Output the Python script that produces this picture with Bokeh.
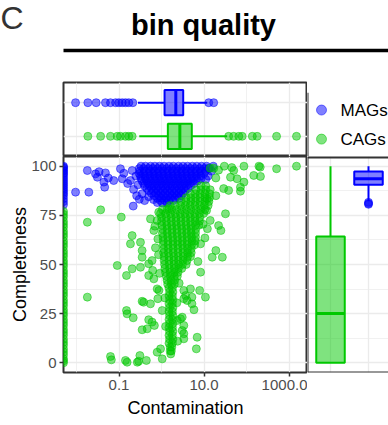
from bokeh.plotting import figure
from bokeh.layouts import column, row
from bokeh.models import Range1d, FixedTicker, Span, Grid, CustomJSTickFormatter
from bokeh.core.properties import value
from bokeh.embed import file_html
from bokeh.resources import INLINE

# ---------------- data ----------------
GROUPS = ["CAGs", "MAGs"]               # bottom/left -> top/right
LEGEND_ORDER = ["MAGs", "CAGs"]
COLORS = {"MAGs": "#0000FF", "CAGs": "#00C800"}

# bins with contamination 0 (drawn at the left edge, like -Inf on a log axis)
MAG_EDGE_COMP = [100, 99.5, 99, 98, 97.5, 96.5, 96, 95, 94, 93, 92, 91, 90, 89, 88, 87, 86, 85, 83.5, 82, 80.5]
CAG_EDGE_COMP = [77, 75.5, 74, 72, 70.5, 69, 67, 65.5, 64, 62, 60.5, 59, 57, 55.5, 54, 52, 50.5, 49, 47, 45.5,
                 44, 42, 40.5, 39, 37, 35.5, 34, 32, 30.5, 29, 27, 25.5, 24, 22, 20.5, 19, 17, 15.5, 14, 12,
                 10.5, 9, 7, 5.5, 4, 2, 1, 0]

# MAGs: (contamination, completeness)
MAG_SCATTER = [(0.0095, 86.8), (0.018, 97.8), (0.0195, 86.8), (0.028, 96.1), (0.031, 94.4), (0.034, 97.2),
               (0.044, 91.9), (0.046, 89.3), (0.048, 96.6), (0.056, 94.0), (0.075, 92.7), (0.108, 98.7),
               (0.119, 93.6), (0.13, 96.4), (0.16, 91.2), (0.186, 92.7), (0.204, 97.8), (0.216, 79.7),
               (0.22, 88.2), (0.25, 95.0), (0.26, 85.0), (0.28, 90.5), (0.3, 83.2), (0.35, 86.0),
               (0.4, 82.5), (0.5, 84.5), (0.65, 83.0), (0.8, 81.5), (13.0, 99.0), (15.0, 97.5),
               (16.5, 100.0), (12.5, 95.0), (11.0, 93.3)]
MAG_CORE = [
    (100, [0.33, 0.42, 0.55, 0.7, 0.9, 1.15, 1.5, 1.9, 2.5, 3.2, 4.1, 5.3, 6.8, 8.8, 11.5]),
    (98.8, [0.3, 0.38, 0.5, 0.63, 0.82, 1.05, 1.35, 1.75, 2.25, 2.9, 3.7, 4.8, 6.2, 8.0, 10.3, 13.0]),
    (97.5, [0.31, 0.4, 0.52, 0.67, 0.86, 1.1, 1.42, 1.83, 2.35, 3.0, 3.9, 5.0, 6.5, 8.4, 10.8]),
    (96.2, [0.3, 0.38, 0.49, 0.63, 0.81, 1.04, 1.34, 1.72, 2.2, 2.85, 3.65, 4.7, 6.05, 7.8, 10.0]),
    (95, [0.32, 0.41, 0.53, 0.68, 0.87, 1.12, 1.44, 1.85, 2.4, 3.05, 3.95, 5.1, 6.5, 8.4]),
    (93.7, [0.33, 0.42, 0.54, 0.7, 0.9, 1.16, 1.5, 1.92, 2.45, 3.15, 4.05, 5.2, 6.7, 8.5]),
    (92.5, [0.35, 0.45, 0.58, 0.75, 0.96, 1.23, 1.58, 2.03, 2.6, 3.35, 4.3, 5.5, 7.1]),
    (91.2, [0.38, 0.49, 0.63, 0.8, 1.03, 1.32, 1.7, 2.2, 2.8, 3.6, 4.6, 5.9]),
    (90, [0.4, 0.52, 0.67, 0.86, 1.1, 1.42, 1.82, 2.35, 3.0, 3.85, 4.9]),
    (88.7, [0.45, 0.58, 0.75, 0.96, 1.23, 1.58, 2.03, 2.6, 3.35, 4.2]),
    (87.5, [0.5, 0.64, 0.82, 1.05, 1.35, 1.73, 2.2, 2.85, 3.6]),
    (86.2, [0.58, 0.74, 0.95, 1.22, 1.56, 2.0, 2.55, 3.2]),
    (85, [0.68, 0.87, 1.1, 1.42, 1.8, 2.3, 2.9]),
    (83.7, [0.8, 1.0, 1.3, 1.65, 2.1, 2.6]),
    (82.5, [0.95, 1.2, 1.5, 1.9]),
    (81.3, [1.05, 1.35]),
]

# CAGs: (contamination, completeness)
CAG_SCATTER = [(17, 99), (30, 100), (45, 99.3), (87, 100), (196, 100), (210, 99.5), (510, 98.7), (1500, 100),
               (50, 97.8), (42, 94.4), (60, 93.6), (148, 95.3), (213, 94.8), (87, 91.9), (72, 89.3),
               (72, 87.3), (38, 87.7), (29, 88.6), (19, 94), (22, 98), (14, 99), (19, 85), (11.8, 83.6),
               (32, 75.8), (22, 69.8), (25, 67.3), (14, 72.4), (12, 68.2), (19, 57.1), (15.6, 53.7),
               (27, 53.7), (8.3, 60.5), (8.3, 46.1), (10.5, 63.5), (9.5, 70.5), (11.5, 77.5), (7.2, 51.5),
               (0.018, 71.5), (0.037, 77.8), (0.113, 74.1), (0.204, 64.7), (0.186, 60.5), (0.32, 61.3),
               (0.35, 57.1), (0.091, 49.5), (0.15, 44.4), (0.204, 47.8), (0.32, 48.6), (0.35, 53.7),
               (0.5, 50.4), (0.6, 52), (0.5, 44.4), (0.66, 42.7), (0.79, 37.6), (0.66, 67.3), (0.79, 72.4),
               (0.55, 73.2), (0.86, 76.6), (1.48, 78.3), (0.72, 58.5), (0.82, 63.0), (0.7, 69.5),
               (0.85, 55.0), (0.62, 47.0), (0.9, 45.5),
               (0.018, 33.4), (0.15, 26.6), (0.155, 24.9), (0.216, 22.9), (0.35, 31.3), (0.38, 30.8),
               (0.55, 30), (0.5, 21.9), (0.6, 20.7), (0.68, 19), (0.35, 16.8), (0.46, 17.3), (0.82, 32.6),
               (0.87, 36.8), (1.04, 2), (0.79, 5.4), (0.31, 3.7), (0.44, 1.2), (0.063, 3.2), (0.066, 1.5),
               (0.142, 1.2), (0.155, 0.3), (0.27, 0.3), (0.29, 0.8), (1.04, 26.6), (0.95, 7.1),
               (3.07, 23.2), (2.8, 22.4), (3.35, 36.8), (3.7, 34.2), (3.35, 32.6), (4.0, 31.7), (5.2, 33.4),
               (5.2, 30), (5.8, 27), (4.8, 37.6), (7.9, 36.8), (10.8, 33.4), (6.6, 7.1), (6.9, 13),
               (3.35, 19), (3.35, 14.8), (3.35, 12.2), (3.07, 16.4), (2.35, 21.5), (2.3, 30.5),
               (2.4, 11.0), (1.25, 18.5), (1.2, 33.0), (2.6, 40.5)]
CAG_CORE = [
    (90, [8.5, 11.0]),
    (88, [6.5, 8.5, 11.0, 14.0]),
    (86, [4.8, 6.2, 8.0, 10.5, 13.5]),
    (84, [3.8, 4.9, 6.3, 8.1, 10.5, 13.5]),
    (82, [2.9, 3.8, 4.9, 6.3, 8.1, 10.5, 13.0]),
    (80, [1.6, 2.1, 2.8, 3.6, 4.7, 6.1, 7.9, 10.2, 12.5]),
    (78, [1.05, 1.35, 1.75, 2.3, 3.0, 3.9, 5.0, 6.5, 8.4, 10.5]),
    (76, [0.95, 1.25, 1.62, 2.1, 2.75, 3.55, 4.6, 6.0, 7.8, 9.8]),
    (74, [1.0, 1.3, 1.7, 2.2, 2.85, 3.7, 4.8, 6.2, 8.0]),
    (72, [1.0, 1.3, 1.7, 2.2, 2.85, 3.7, 4.8, 6.2, 7.8]),
    (70, [1.02, 1.33, 1.73, 2.25, 2.9, 3.8, 4.9, 6.3, 7.6]),
    (68, [1.05, 1.36, 1.77, 2.3, 3.0, 3.9, 5.0, 6.4]),
    (66, [1.05, 1.37, 1.78, 2.3, 3.0, 3.9, 5.0, 6.3]),
    (64, [1.08, 1.4, 1.82, 2.37, 3.08, 4.0, 5.1, 6.3]),
    (62, [1.1, 1.43, 1.86, 2.4, 3.1, 4.0, 5.2, 6.2]),
    (60, [1.1, 1.43, 1.86, 2.4, 3.1, 4.0, 5.1, 6.0]),
    (58, [1.12, 1.45, 1.88, 2.45, 3.2, 4.1, 5.0]),
    (56, [1.12, 1.45, 1.88, 2.45, 3.2, 4.1, 5.0]),
    (54, [1.15, 1.5, 1.95, 2.5, 3.25, 4.1, 4.8]),
    (52, [1.15, 1.5, 1.95, 2.5, 3.2, 4.0]),
    (50, [1.18, 1.52, 1.97, 2.5, 3.1, 3.8]),
    (48, [1.2, 1.55, 2.0, 2.5, 3.0]),
    (46, [1.25, 1.6, 2.0, 2.45]),
    (44, [1.3, 1.62, 2.0, 2.35]),
    (42, [1.35, 1.68, 2.05]),
    (40, [1.4, 1.7, 2.0]),
    (38, [1.5, 1.8]), (36, [1.55, 1.85]), (34, [1.5, 1.8]), (32, [1.55, 1.85]), (30, [1.5, 1.8]),
    (28, [1.55, 1.85]), (26, [1.5, 1.8]), (24, [1.55, 1.85]), (22, [1.5, 1.8]), (20, [1.55, 1.85]),
    (18, [1.5, 1.8]), (16, [1.55, 1.85]), (14, [1.5, 1.8]), (12, [1.55, 1.85]), (10, [1.5, 1.8]),
    (8, [1.6, 1.75]), (6, [1.6, 1.7]), (4.5, [1.65]),
]

# marginal box plot statistics (contamination, log scale) -- order follows GROUPS
CONT_LO = [0.30, 0.28]
CONT_Q1 = [1.41, 1.18]
CONT_MED = [2.7, 2.17]
CONT_Q3 = [5.16, 3.24]
CONT_HI = [35, 11.9]
CONT_OUT = {"MAGs": [0.0095, 0.0185, 0.029, 0.048, 0.063, 0.083, 0.099, 0.119, 0.142, 0.17, 0.211, 12.9, 16.9],
            "CAGs": [0.0185, 0.037, 0.063, 0.091, 0.108, 0.142, 0.17, 0.204, 38, 49.7, 66, 79, 137, 178, 510, 1500]}
# completeness box plot statistics
COMP_LO = [0, 82.2]
COMP_Q1 = [0, 90.5]
COMP_MED = [25.1, 93.6]
COMP_Q3 = [64.2, 97.3]
COMP_HI = [100, 100]
COMP_OUT = {"MAGs": [81.6, 81.0, 80.6], "CAGs": []}

X_TICKS = [0.1, 10, 1000]
X_MINOR = [0.01, 1, 100]
Y_TICKS = [0, 25, 50, 75, 100]
Y_MINOR = [12.5, 37.5, 62.5, 87.5]

# ---------------- styling ----------------
FONT = "Liberation Sans"
BORDER = "#333333"
GRID = "#EBEBEB"
X_START, X_END = 10 ** -2.306, 10 ** 3.435
Y_START, Y_END = -4.93, 104.93
PT = dict(size=8, line_width=1, fill_alpha=0.5, line_alpha=0.5)


def base(width, height, **kw):
    p = figure(width=width, height=height, output_backend="svg", toolbar_location=None,
               min_border=0, title=None, **kw)
    p.background_fill_color = "white"
    p.border_fill_color = "white"
    return p


def strip_grids(p):
    p.center = [r for r in p.center if not isinstance(r, Grid)]


def add_grid(p, dim, ticks, minor=None):
    g = Grid(dimension=dim, ticker=FixedTicker(ticks=ticks, minor_ticks=minor or []),
             grid_line_color=GRID, grid_line_width=1.3,
             minor_grid_line_color=GRID if minor else None, minor_grid_line_width=0.7)
    p.add_layout(g, "center")


pos = {g: i + 1 for i, g in enumerate(GROUPS)}

# ---------------- title strip ----------------
t = base(388, 70, x_range=Range1d(0, 388), y_range=Range1d(70, 0),
         x_axis_location=None, y_axis_location=None)
strip_grids(t)
t.outline_line_color = None
t.text(x=[0], y=[17], text=["C"], text_font=value(FONT), text_font_size="32px",
       text_color="#333333", text_baseline="alphabetic")
t.text(x=[203], y=[24], text=["bin quality"], text_font=value(FONT), text_font_size="29px",
       text_font_style="bold", text_color="black", text_align="center", text_baseline="alphabetic")
t.segment(x0=[63], y0=[50], x1=[388], y1=[50], line_width=3.5, line_color="black")

# ---------------- top marginal box plots ----------------
a = base(307, 86, x_axis_type="log", x_range=Range1d(X_START, X_END), y_range=Range1d(0.4, 2.6),
         x_axis_location=None, y_axis_location=None, min_border_left=63, min_border_top=12)
strip_grids(a)
add_grid(a, 0, X_TICKS, X_MINOR)
add_grid(a, 1, [1, 2])
a.outline_line_color = BORDER
a.outline_line_width = 2
for i, g in enumerate(GROUPS):
    col = COLORS[g]
    y = pos[g]
    a.segment(x0=[CONT_LO[i], CONT_Q3[i]], y0=[y, y], x1=[CONT_Q1[i], CONT_HI[i]], y1=[y, y],
              line_color=col, line_width=2)
    a.hbar(y=[y], left=[CONT_Q1[i]], right=[CONT_Q3[i]], height=0.75, fill_color=col,
           fill_alpha=0.5, line_color=col, line_width=2)
    a.segment(x0=[CONT_MED[i]], y0=[y - 0.375], x1=[CONT_MED[i]], y1=[y + 0.375],
              line_color=col, line_width=3)
    a.scatter(x=CONT_OUT[g], y=[y] * len(CONT_OUT[g]), color=col, **PT)

# ---------------- legend ----------------
b = base(81, 86, x_range=Range1d(0, 81), y_range=Range1d(86, 0),
         x_axis_location=None, y_axis_location=None)
strip_grids(b)
b.outline_line_color = None
b.segment(x0=[0], y0=[12], x1=[0], y1=[86], line_color=BORDER, line_width=2)
for k, g in enumerate(LEGEND_ORDER):
    yy = 32 + 33.8 * k
    b.scatter(x=[14], y=[yy], size=10, color=COLORS[g], fill_alpha=0.5, line_alpha=0.5, line_width=1)
    b.text(x=[33], y=[yy], text=[g], text_font=value(FONT), text_font_size="17px",
           text_color="black", text_baseline="middle")

# ---------------- main scatter ----------------
c = base(307, 269, x_axis_type="log", x_range=Range1d(X_START, X_END), y_range=Range1d(Y_START, Y_END),
         min_border_left=63, min_border_bottom=53, x_axis_label="Contamination",
         y_axis_label="Completeness")
c.outline_line_color = BORDER
c.outline_line_width = 2
c.xaxis.ticker = FixedTicker(ticks=X_TICKS, minor_ticks=X_MINOR)
c.xaxis.formatter = CustomJSTickFormatter(code="return tick.toFixed(1);")
c.yaxis.ticker = FixedTicker(ticks=Y_TICKS, minor_ticks=Y_MINOR)
for ax in (c.xaxis[0], c.yaxis[0]):
    ax.axis_line_color = None
    ax.major_tick_line_color = BORDER
    ax.major_tick_line_width = 1.5
    ax.major_tick_out = 4
    ax.major_tick_in = 0
    ax.minor_tick_out = 0
    ax.minor_tick_in = 0
    ax.major_label_standoff = 3
    ax.major_label_text_font = FONT
    ax.major_label_text_font_size = "15px"
    ax.major_label_text_color = "#4D4D4D"
    ax.axis_label_text_font = FONT
    ax.axis_label_text_font_size = "18px"
    ax.axis_label_text_font_style = "normal"
    ax.axis_label_text_color = "black"
c.xaxis.axis_label_standoff = 5
c.yaxis.axis_label_standoff = -2
for gr in c.grid:
    gr.grid_line_color = GRID
    gr.grid_line_width = 1.3
    gr.minor_grid_line_color = GRID
    gr.minor_grid_line_width = 0.7


def flatten(edge, scatter, core):
    xs = [X_START if v == 0 else v for v in [0] * len(edge)]
    ys = list(edge)
    xs += [p[0] for p in scatter]
    ys += [p[1] for p in scatter]
    for comp, conts in core:
        xs += conts
        ys += [comp] * len(conts)
    return xs, ys


mx, my = flatten(MAG_EDGE_COMP, MAG_SCATTER, MAG_CORE)
cx, cy = flatten(CAG_EDGE_COMP, CAG_SCATTER, CAG_CORE)
c.scatter(x=mx, y=my, color=COLORS["MAGs"], **PT)
c.scatter(x=cx, y=cy, color=COLORS["CAGs"], **PT)

# ---------------- right marginal box plots ----------------
X0 = 1 - 23 / 38
d = base(81, 269, x_range=Range1d(X0, X0 + 81 / 38), y_range=Range1d(Y_START, Y_END),
         x_axis_location=None, y_axis_location=None, min_border_bottom=53)
strip_grids(d)
add_grid(d, 0, [1, 2])
add_grid(d, 1, Y_TICKS, Y_MINOR)
d.outline_line_color = None
d.add_layout(Span(location=X0, dimension="height", line_color=BORDER, line_width=2))
d.add_layout(Span(location=Y_END, dimension="width", line_color=BORDER, line_width=4))
d.add_layout(Span(location=Y_START, dimension="width", line_color=BORDER, line_width=2))
for i, g in enumerate(GROUPS):
    col = COLORS[g]
    x = pos[g]
    d.segment(x0=[x, x], y0=[COMP_LO[i], COMP_Q3[i]], x1=[x, x], y1=[COMP_Q1[i], COMP_HI[i]],
              line_color=col, line_width=2)
    d.vbar(x=[x], bottom=[COMP_Q1[i]], top=[COMP_Q3[i]], width=0.75, fill_color=col,
           fill_alpha=0.5, line_color=col, line_width=2)
    d.segment(x0=[x - 0.375], y0=[COMP_MED[i]], x1=[x + 0.375], y1=[COMP_MED[i]],
              line_color=col, line_width=3)
    if COMP_OUT[g]:
        d.scatter(x=[x] * len(COMP_OUT[g]), y=COMP_OUT[g], color=col, **PT)

root = column(t, row(a, b), row(c, d))
open("out.html", "w").write(file_html(root, INLINE))
